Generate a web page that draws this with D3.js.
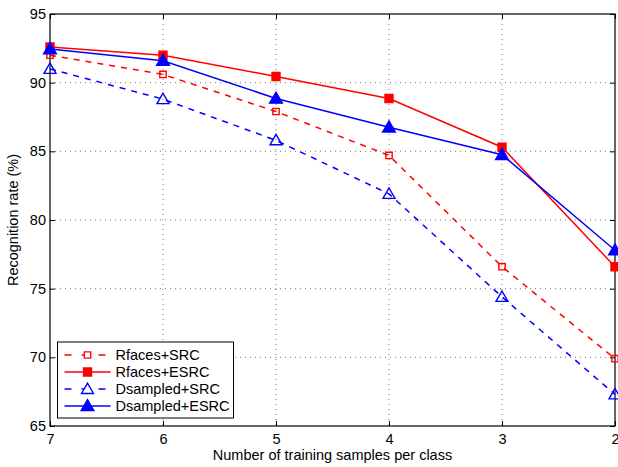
<!DOCTYPE html>
<html>
<head>
<meta charset="utf-8">
<script src="https://cdn.jsdelivr.net/npm/d3@7"></script>
<style>
  body { margin: 0; background: #fff; overflow: hidden; }
  svg { display: block; }
  text { font-family: "Liberation Sans", Arial, sans-serif; }
</style>
</head>
<body>
<svg id="chart"></svg>
<script>
// data
const samples = [7, 6, 5, 4, 3, 2];
const yTicks = [65, 70, 75, 80, 85, 90, 95];
const rfacesSRC = [92.0, 90.6, 87.9, 84.7, 76.6, 69.9];
const rfacesESRC = [92.6, 92.0, 90.45, 88.85, 85.3, 76.6];
const dsampledSRC = [91.0, 88.8, 85.8, 81.9, 74.4, 67.3];
const dsampledESRC = [92.45, 91.6, 88.85, 86.75, 84.75, 77.8];

const series = [
  { name: 'Rfaces+SRC', values: rfacesSRC, color: '#ff0000', dash: '6,6', marker: 'square', filled: false },
  { name: 'Rfaces+ESRC', values: rfacesESRC, color: '#ff0000', dash: null, marker: 'square', filled: true },
  { name: 'Dsampled+SRC', values: dsampledSRC, color: '#0000ff', dash: '6,6', marker: 'triangle', filled: false },
  { name: 'Dsampled+ESRC', values: dsampledESRC, color: '#0000ff', dash: null, marker: 'triangle', filled: true }
];

const width = 618, height = 467;
const margin = { top: 14, right: 3, bottom: 41, left: 50 };
const innerWidth = width - margin.left - margin.right;
const innerHeight = height - margin.top - margin.bottom;
const fontSize = 14.5;

const svg = d3.select('#chart')
  .attr('width', width)
  .attr('height', height);

const g = svg.append('g')
  .attr('transform', `translate(${margin.left}, ${margin.top})`);

// scales (x runs from 7 down to 2)
const xScale = d3.scaleLinear()
  .domain([7, 2])
  .range([0, innerWidth]);

const yScale = d3.scaleLinear()
  .domain([65, 95])
  .range([innerHeight, 0]);

// dotted grid
g.append('g')
  .selectAll('line')
  .data(samples.slice(1, -1))
  .enter()
  .append('line')
  .attr('x1', d => xScale(d))
  .attr('x2', d => xScale(d))
  .attr('y1', 0)
  .attr('y2', innerHeight)
  .attr('stroke', '#555')
  .attr('stroke-width', 0.8)
  .attr('stroke-dasharray', '1,4');

g.append('g')
  .selectAll('line')
  .data(yTicks.slice(1, -1))
  .enter()
  .append('line')
  .attr('x1', 0)
  .attr('x2', innerWidth)
  .attr('y1', d => yScale(d))
  .attr('y2', d => yScale(d))
  .attr('stroke', '#555')
  .attr('stroke-width', 0.8)
  .attr('stroke-dasharray', '1,4');

// axes, ticks pointing inward like MATLAB
const axisStyle = sel => {
  sel.select('.domain').remove();
  sel.selectAll('.tick line').attr('stroke', '#000');
  sel.selectAll('.tick text').attr('font-size', fontSize).attr('fill', '#000')
    .style('font-family', '"Liberation Sans", Arial, sans-serif');
};

const noLabels = sel => {
  sel.select('.domain').remove();
  sel.selectAll('.tick line').attr('stroke', '#000');
  sel.selectAll('.tick text').remove();
};

g.append('g')
  .attr('transform', `translate(0, ${innerHeight})`)
  .call(d3.axisBottom(xScale).tickValues(samples).tickFormat(d3.format('d')).tickSize(-5).tickPadding(8))
  .call(axisStyle);

g.append('g')
  .call(d3.axisTop(xScale).tickValues(samples).tickSize(-5))
  .call(noLabels);

g.append('g')
  .call(d3.axisLeft(yScale).tickValues(yTicks).tickFormat(d3.format('d')).tickSize(-5).tickPadding(4))
  .call(axisStyle);

g.append('g')
  .attr('transform', `translate(${innerWidth}, 0)`)
  .call(d3.axisRight(yScale).tickValues(yTicks).tickSize(-5))
  .call(noLabels);

g.append('rect')
  .attr('width', innerWidth)
  .attr('height', innerHeight)
  .attr('fill', 'none')
  .attr('stroke', '#000')
  .attr('stroke-width', 1.2);

// lines
const line = d3.line()
  .x((d, i) => xScale(samples[i]))
  .y(d => yScale(d));

const markerPath = (s) => s.marker === 'square'
  ? d3.symbol(d3.symbolSquare, s.filled ? 64 : 40)()
  : d3.symbol(d3.symbolTriangle, s.filled ? 70 : 62)();

series.forEach(s => {
  g.append('path')
    .datum(s.values)
    .attr('d', line)
    .attr('fill', 'none')
    .attr('stroke', s.color)
    .attr('stroke-width', 1.5)
    .attr('stroke-dasharray', s.dash);

  g.selectAll(null)
    .data(s.values)
    .enter()
    .append('path')
    .attr('transform', (d, i) => `translate(${xScale(samples[i])}, ${yScale(d) + (s.marker === 'triangle' ? 1 : 0)})`)
    .attr('d', markerPath(s))
    .attr('fill', s.filled ? s.color : 'none')
    .attr('stroke', s.color)
    .attr('stroke-width', 1.4);
});

// legend
const legend = g.append('g')
  .attr('transform', 'translate(7.5, 328)');

legend.append('rect')
  .attr('width', 176)
  .attr('height', 76)
  .attr('fill', '#fff')
  .attr('stroke', '#000')
  .attr('stroke-width', 1);

series.forEach((s, i) => {
  const row = legend.append('g')
    .attr('transform', `translate(0, ${13 + i * 17})`);
  row.append('line')
    .attr('x1', 7)
    .attr('x2', 53)
    .attr('stroke', s.color)
    .attr('stroke-width', 1.5)
    .attr('stroke-dasharray', s.dash ? '7,10' : null);
  row.append('path')
    .attr('transform', `translate(30, ${s.marker === 'triangle' ? 1 : 0})`)
    .attr('d', markerPath(s))
    .attr('fill', s.filled ? s.color : '#fff')
    .attr('stroke', s.color)
    .attr('stroke-width', 1.4);
  row.append('text')
    .attr('x', 58)
    .attr('y', 5)
    .attr('font-size', fontSize)
    .text(s.name);
});

// axis titles
svg.append('text')
  .attr('x', margin.left + innerWidth / 2)
  .attr('y', 460)
  .attr('text-anchor', 'middle')
  .attr('font-size', fontSize)
  .text('Number of training samples per class');

svg.append('text')
  .attr('transform', `translate(17.5, ${margin.top + innerHeight / 2}) rotate(-90)`)
  .attr('text-anchor', 'middle')
  .attr('font-size', fontSize)
  .text('Recognition rate (%)');
</script>
</body>
</html>
